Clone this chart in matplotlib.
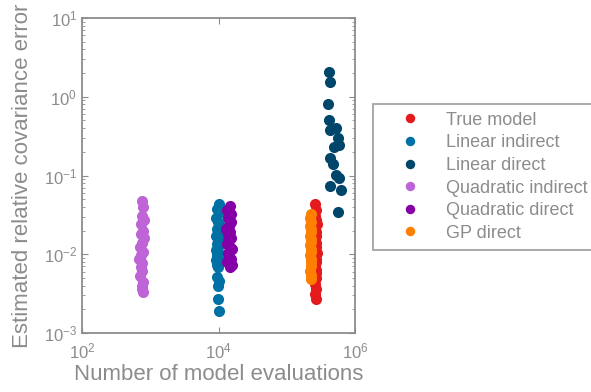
import matplotlib
matplotlib.use("Agg")
import matplotlib.pyplot as plt
import matplotlib.ticker as mticker

plt.rcParams["font.family"] = ["Liberation Sans", "DejaVu Sans"]
plt.rcParams["mathtext.default"] = "regular"

GRAY = "#8c8c8c"

# ── Data: (model evaluations, estimated error) per method ─────────────────
true_x = [2.62e5, 2.70e5, 2.58e5, 2.66e5, 2.74e5, 2.60e5, 2.68e5, 2.72e5,
          2.56e5, 2.64e5, 2.70e5, 2.62e5, 2.76e5, 2.58e5, 2.66e5, 2.72e5,
          2.60e5, 2.68e5, 2.64e5, 2.70e5, 2.62e5, 2.66e5, 2.58e5, 2.64e5]
true_y = [0.044, 0.036, 0.031, 0.027, 0.024, 0.021, 0.019, 0.017,
          0.015, 0.014, 0.0125, 0.0115, 0.0105, 0.0095, 0.0088, 0.0080,
          0.0072, 0.0064, 0.0057, 0.0050, 0.0042, 0.0036, 0.0031, 0.0027]

lin_ind_x = [1.00e4, 9.6e3, 1.01e4, 9.3e3, 9.8e3, 1.00e4, 9.5e3, 9.9e3,
             9.2e3, 9.7e3, 1.00e4, 9.4e3, 9.8e3, 9.1e3, 9.9e3, 9.6e3,
             1.00e4, 9.3e3, 9.7e3, 9.5e3, 9.9e3, 9.6e3, 1.00e4, 9.8e3,
             9.9e3, 1.00e4]
lin_ind_y = [0.043, 0.038, 0.033, 0.029, 0.026, 0.024, 0.021, 0.019,
             0.017, 0.016, 0.0148, 0.0135, 0.0124, 0.0114, 0.0106, 0.0098,
             0.0091, 0.0085, 0.0079, 0.0074, 0.0069, 0.0052, 0.0046, 0.0039,
             0.0027, 0.0019]

lin_dir_x = [4.13e5, 4.37e5, 4.03e5, 4.13e5, 4.37e5, 5.24e5, 5.66e5, 4.90e5,
             5.85e5, 4.27e5, 4.78e5, 5.24e5, 5.85e5, 4.37e5, 6.34e5, 5.66e5]
lin_dir_y = [2.08, 1.55, 0.81, 0.51, 0.38, 0.40, 0.30, 0.232,
             0.243, 0.165, 0.142, 0.101, 0.092, 0.073, 0.065, 0.0346]

quad_ind_x = [745, 790, 760, 800, 720, 770, 735, 805,
              750, 700, 780, 740, 690, 765, 720, 755,
              700, 790, 760, 745, 780]
quad_ind_y = [0.047, 0.040, 0.031, 0.027, 0.024, 0.020, 0.018, 0.0160,
              0.0137, 0.0122, 0.0108, 0.0098, 0.0088, 0.0078, 0.0069, 0.0061,
              0.0053, 0.0045, 0.0040, 0.0036, 0.0033]

quad_dir_x = [1.45e4, 1.32e4, 1.50e4, 1.38e4, 1.55e4, 1.42e4, 1.30e4, 1.48e4,
              1.36e4, 1.52e4, 1.40e4, 1.33e4, 1.47e4, 1.56e4, 1.39e4, 1.44e4,
              1.50e4, 1.35e4, 1.58e4, 1.46e4]
quad_dir_y = [0.041, 0.036, 0.032, 0.029, 0.026, 0.023, 0.021, 0.019,
              0.0175, 0.016, 0.0148, 0.0136, 0.0125, 0.0115, 0.0105, 0.0096,
              0.0088, 0.0080, 0.0074, 0.0068]

gp_x = [2.24e5, 2.22e5, 2.26e5, 2.21e5, 2.25e5, 2.23e5, 2.22e5, 2.26e5,
        2.24e5, 2.21e5, 2.25e5, 2.23e5, 2.22e5, 2.24e5, 2.26e5, 2.23e5,
        2.22e5, 2.25e5, 2.24e5]
gp_y = [0.032, 0.029, 0.026, 0.023, 0.021, 0.019, 0.0172, 0.0156,
        0.0142, 0.0130, 0.0118, 0.0107, 0.0097, 0.0088, 0.0079, 0.0070,
        0.0062, 0.0055, 0.0049]

series = [
    ("True model", true_x, true_y, "#E41A1C"),
    ("Linear indirect", lin_ind_x, lin_ind_y, "#0071A4"),
    ("Linear direct", lin_dir_x, lin_dir_y, "#00466B"),
    ("Quadratic indirect", quad_ind_x, quad_ind_y, "#BF64D6"),
    ("Quadratic direct", quad_dir_x, quad_dir_y, "#8500A6"),
    ("GP direct", gp_x, gp_y, "#FF8000"),
]

x_ticks = [1e2, 1e4, 1e6]

# ── Figure ────────────────────────────────────────────────────────────────
fig = plt.figure(figsize=(5.91, 3.92), dpi=100)
ax = fig.add_axes([82 / 591, 1 - 333 / 392, 273 / 591, 315 / 392])

for name, xs, ys, col in series:
    ax.plot(xs, ys, "o", color=col, mec=col, ms=8, mew=0, label=name)

ax.set_xscale("log")
ax.set_yscale("log")
ax.set_xlim(1e2, 1e6)
ax.set_ylim(1e-3, 1e1)
ax.xaxis.set_major_locator(mticker.FixedLocator(x_ticks))
ax.xaxis.set_minor_locator(mticker.NullLocator())

for sp in ax.spines.values():
    sp.set_color(GRAY)
    sp.set_linewidth(1.3)
ax.tick_params(which="both", direction="in", top=True, right=True,
               colors=GRAY, labelcolor=GRAY, labelsize=12)
ax.tick_params(which="major", length=4, width=0.8)
ax.tick_params(which="minor", length=2, width=0.6)
ax.tick_params(axis="x", pad=6)

ax.set_xlabel("Number of model evaluations", fontsize=16, color=GRAY, labelpad=2)
ax.set_ylabel("Estimated relative covariance error", fontsize=16, color=GRAY,
              labelpad=8)

leg = ax.legend(loc="upper left", bbox_to_anchor=(373 / 591, 1 - 104 / 392),
                bbox_transform=fig.transFigure, fontsize=13, frameon=True,
                fancybox=False, borderpad=0.43, labelspacing=0.31,
                handlelength=3.28, handletextpad=0.31, borderaxespad=0,
                markerscale=0.85, numpoints=1)
leg.get_frame().set_edgecolor(GRAY)
leg.get_frame().set_linewidth(1.3)
for t in leg.get_texts():
    t.set_color(GRAY)

fig.savefig("out.png", dpi=100)
